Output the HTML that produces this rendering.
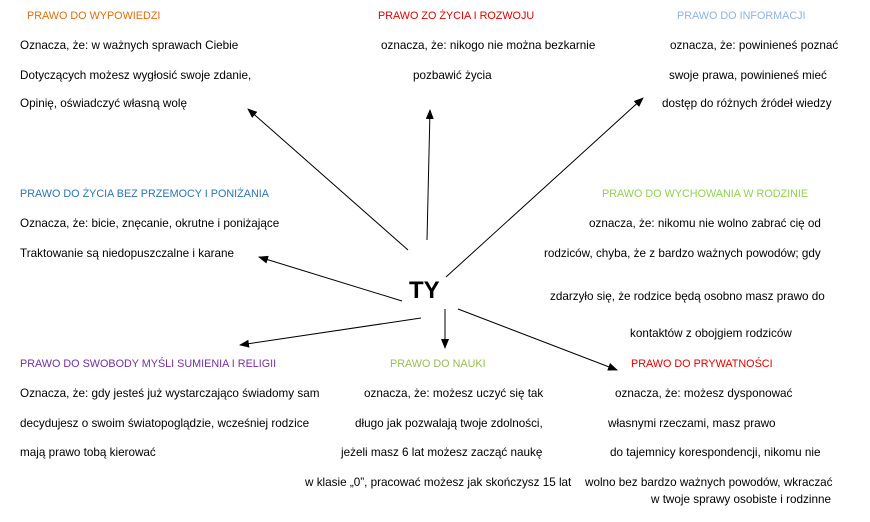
<!DOCTYPE html>
<html><head><meta charset="utf-8"><style>
body{margin:0;width:870px;height:522px;background:#fff;position:relative;overflow:hidden;font-family:"Liberation Sans",sans-serif;font-size:11.7px;color:#000}
.t{position:absolute;white-space:nowrap;line-height:12px}
.h{font-size:10.8px}
</style></head><body>
<div class="t h" style="left:27px;top:10px;color:#e46c0a">PRAWO DO WYPOWIEDZI</div>
<div class="t" style="left:20px;top:40px">Oznacza, że: w ważnych sprawach Ciebie</div>
<div class="t" style="left:20px;top:70px">Dotyczących możesz wygłosić swoje zdanie,</div>
<div class="t" style="left:20px;top:98px">Opinię, oświadczyć własną wolę</div>

<div class="t h" style="left:378px;top:10px;color:#e00000">PRAWO ZO ŻYCIA I ROZWOJU</div>
<div class="t" style="left:381px;top:40px">oznacza, że: nikogo nie można bezkarnie</div>
<div class="t" style="left:413px;top:70px">pozbawić życia</div>

<div class="t h" style="left:677px;top:10px;color:#8db3e2">PRAWO DO INFORMACJI</div>
<div class="t" style="left:670px;top:40px">oznacza, że: powinieneś poznać</div>
<div class="t" style="left:669px;top:70px">swoje prawa, powinieneś mieć</div>
<div class="t" style="left:662px;top:98px">dostęp do różnych źródeł wiedzy</div>

<div class="t h" style="left:20px;top:188px;color:#2e74b5">PRAWO DO ŻYCIA BEZ PRZEMOCY I PONIŻANIA</div>
<div class="t" style="left:20px;top:218px">Oznacza, że: bicie, znęcanie, okrutne i poniżające</div>
<div class="t" style="left:20px;top:248px">Traktowanie są niedopuszczalne i karane</div>

<div class="t h" style="left:602px;top:188px;color:#92d050">PRAWO DO WYCHOWANIA W RODZINIE</div>
<div class="t" style="left:589px;top:218px">oznacza, że: nikomu nie wolno zabrać cię od</div>
<div class="t" style="left:544px;top:248px">rodziców, chyba, że z bardzo ważnych powodów; gdy</div>
<div class="t" style="left:550px;top:291px">zdarzyło się, że rodzice będą osobno masz prawo do</div>
<div class="t" style="left:630px;top:328px">kontaktów z obojgiem rodziców</div>

<div class="t" style="left:409px;top:278px;font-size:24px;line-height:26px;font-weight:bold">TY</div>

<div class="t h" style="left:20px;top:358px;color:#7030a0">PRAWO DO SWOBODY MYŚLI SUMIENIA I RELIGII</div>
<div class="t" style="left:20px;top:388px">Oznacza, że: gdy jesteś już wystarczająco świadomy sam</div>
<div class="t" style="left:20px;top:418px">decydujesz o swoim światopoglądzie, wcześniej rodzice</div>
<div class="t" style="left:20px;top:447px">mają prawo tobą kierować</div>

<div class="t h" style="left:390px;top:358px;color:#9bbb59">PRAWO DO NAUKI</div>
<div class="t" style="left:364px;top:388px">oznacza, że: możesz uczyć się tak</div>
<div class="t" style="left:355px;top:418px">długo jak pozwalają twoje zdolności,</div>
<div class="t" style="left:341px;top:447px">jeżeli masz 6 lat możesz zacząć naukę</div>
<div class="t" style="left:305px;top:477px">w klasie „0”, pracować możesz jak skończysz 15 lat</div>

<div class="t h" style="left:631px;top:358px;color:#e00000">PRAWO DO PRYWATNOŚCI</div>
<div class="t" style="left:615px;top:388px">oznacza, że: możesz dysponować</div>
<div class="t" style="left:608px;top:418px">własnymi rzeczami, masz prawo</div>
<div class="t" style="left:610px;top:447px">do tajemnicy korespondencji, nikomu nie</div>
<div class="t" style="left:585px;top:477px">wolno bez bardzo ważnych powodów, wkraczać</div>
<div class="t" style="left:651px;top:494px">w twoje sprawy osobiste i rodzinne</div>

<svg width="870" height="522" style="position:absolute;left:0;top:0">
<defs><marker id="a" markerWidth="10" markerHeight="8" refX="9" refY="4" orient="auto" markerUnits="userSpaceOnUse"><path d="M0,0L10,4L0,8z" fill="#000"/></marker></defs>
<g stroke="#000" stroke-width="1" marker-end="url(#a)">
<line x1="408" y1="250" x2="248" y2="109"/>
<line x1="427" y1="240" x2="430" y2="110"/>
<line x1="446" y1="277" x2="643" y2="98"/>
<line x1="402" y1="301" x2="259" y2="257"/>
<line x1="421" y1="318" x2="240" y2="345"/>
<line x1="445" y1="309" x2="445" y2="348"/>
<line x1="458" y1="309" x2="617" y2="370"/>
</g></svg>
</body></html>
